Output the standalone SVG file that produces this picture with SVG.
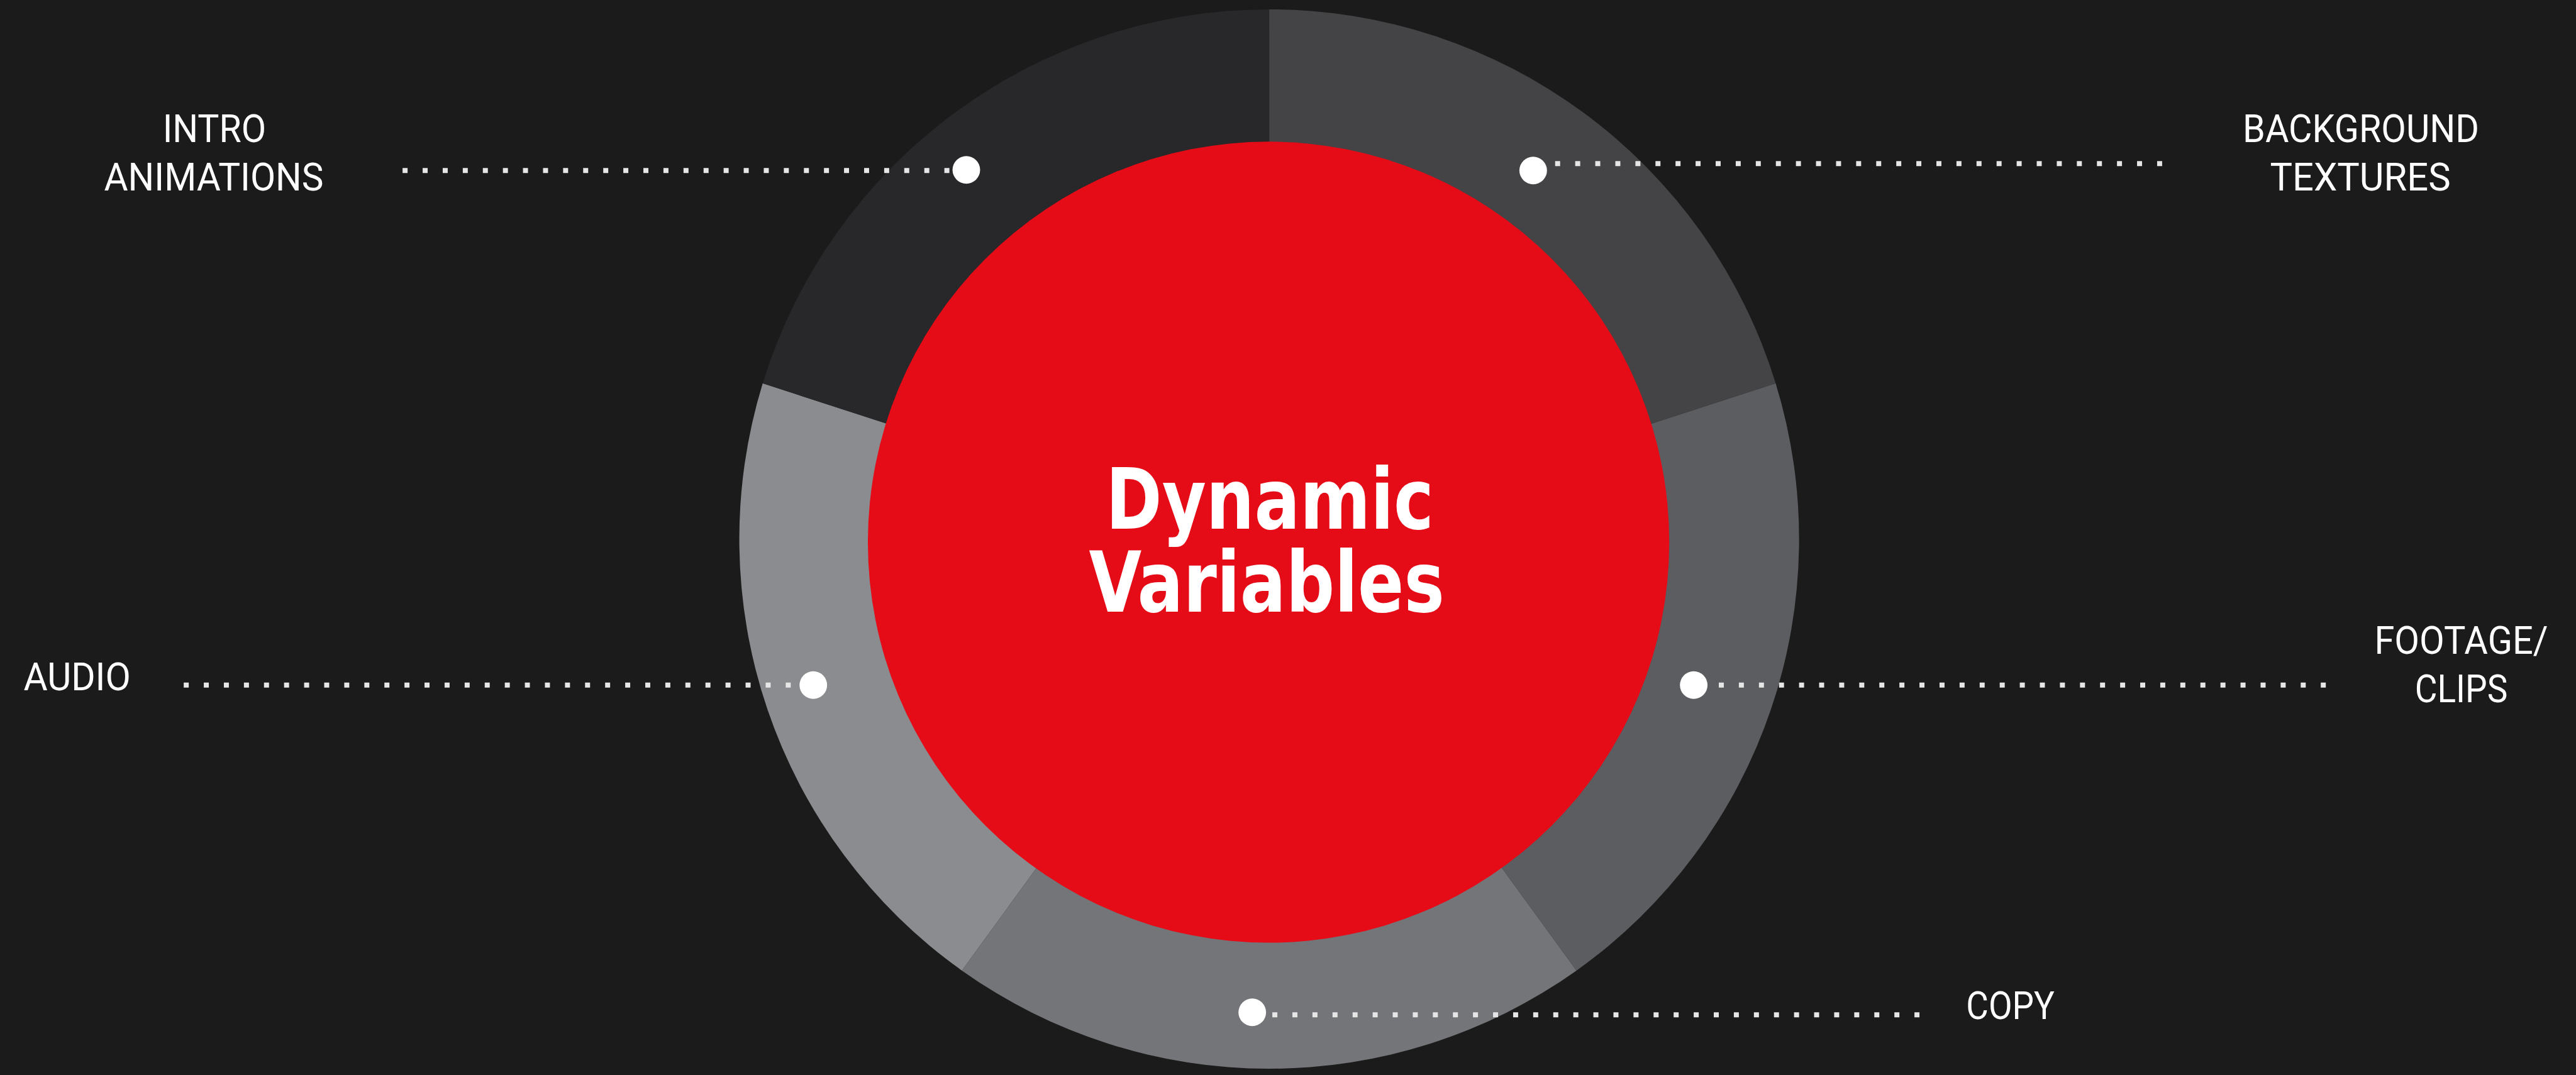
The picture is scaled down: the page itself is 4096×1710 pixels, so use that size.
<svg xmlns="http://www.w3.org/2000/svg" width="4096" height="1710" viewBox="0 0 4096 1710">
  <style>
    .bg { fill: #1b1b1b; }
    .dot { fill: #ffffff; }
    .lead { stroke: #e6e6e6; stroke-width: 8; stroke-dasharray: 8 24; fill: none; }
    .label { font-family: Roboto, "Liberation Sans", sans-serif; font-size: 61px; fill: #ffffff; text-anchor: middle; }
    .title { font-family: "DejaVu Sans Condensed", "DejaVu Sans", sans-serif; font-weight: bold; font-size: 134px; fill: #ffffff; text-anchor: middle; }
  </style>
  <rect class="bg" x="0" y="0" width="4096" height="1710"/>
  <g transform="scale(0.99708)">
    <!-- ring segments: 72-degree wedges from an apex just below the ring centre -->
    <g id="segment-background">
      <path d="M2024 874 L2024 15 A845 845 0 0 1 2831.7 611.6 Z" fill="#444446"/>
    </g>
    <g id="segment-footage">
      <path d="M2024 874 L2831.7 611.6 A845 845 0 0 1 2514 1548.4 Z" fill="#5c5d60"/>
    </g>
    <g id="segment-copy">
      <path d="M2024 874 L2514 1548.4 A845 845 0 0 1 1534 1548.4 Z" fill="#747578"/>
    </g>
    <g id="segment-audio">
      <path d="M2024 874 L1534 1548.4 A845 845 0 0 1 1216.3 611.6 Z" fill="#8b8c8f"/>
    </g>
    <g id="segment-intro">
      <path d="M2024 874 L1216.3 611.6 A845 845 0 0 1 2024 15 Z" fill="#28282a"/>
    </g>

    <!-- centre node -->
    <g id="dynamic-variables">
      <circle cx="2023" cy="865" r="639" fill="#e50b17"/>
      <text class="title" x="2025" y="843" textLength="523" lengthAdjust="spacingAndGlyphs">Dynamic</text>
      <text class="title" x="2020" y="976" textLength="567" lengthAdjust="spacingAndGlyphs">Variables</text>
    </g>

    <!-- dotted leader lines -->
    <g id="connectors">
      <line class="lead" x1="642" y1="272" x2="1514" y2="272"/>
      <line class="lead" x1="2480" y1="261" x2="3448" y2="261"/>
      <line class="lead" x1="293" y1="1093" x2="1261" y2="1093"/>
      <line class="lead" x1="2741" y1="1093" x2="3709" y2="1093"/>
      <line class="lead" x1="2029" y1="1619" x2="3061" y2="1619"/>
    </g>

    <!-- labels with their anchor dots -->
    <g id="intro-animations">
      <circle class="dot" cx="1541" cy="271" r="22"/>
      <text class="label" x="342" y="227" textLength="165" lengthAdjust="spacingAndGlyphs">INTRO</text>
      <text class="label" x="341" y="304" textLength="350" lengthAdjust="spacingAndGlyphs">ANIMATIONS</text>
    </g>
    <g id="background-textures">
      <circle class="dot" cx="2445" cy="272" r="22"/>
      <text class="label" x="3765" y="227" textLength="377" lengthAdjust="spacingAndGlyphs">BACKGROUND</text>
      <text class="label" x="3764" y="304" textLength="288" lengthAdjust="spacingAndGlyphs">TEXTURES</text>
    </g>
    <g id="audio">
      <circle class="dot" cx="1297" cy="1093" r="22"/>
      <text class="label" x="123" y="1101" textLength="171" lengthAdjust="spacingAndGlyphs">AUDIO</text>
    </g>
    <g id="footage-clips">
      <circle class="dot" cx="2701" cy="1093" r="22"/>
      <text class="label" x="3925" y="1043" textLength="277" lengthAdjust="spacingAndGlyphs">FOOTAGE/</text>
      <text class="label" x="3925" y="1120" textLength="148" lengthAdjust="spacingAndGlyphs">CLIPS</text>
    </g>
    <g id="copy">
      <circle class="dot" cx="1997" cy="1615" r="22"/>
      <text class="label" x="3206" y="1626" textLength="141" lengthAdjust="spacingAndGlyphs">COPY</text>
    </g>
  </g>
</svg>
